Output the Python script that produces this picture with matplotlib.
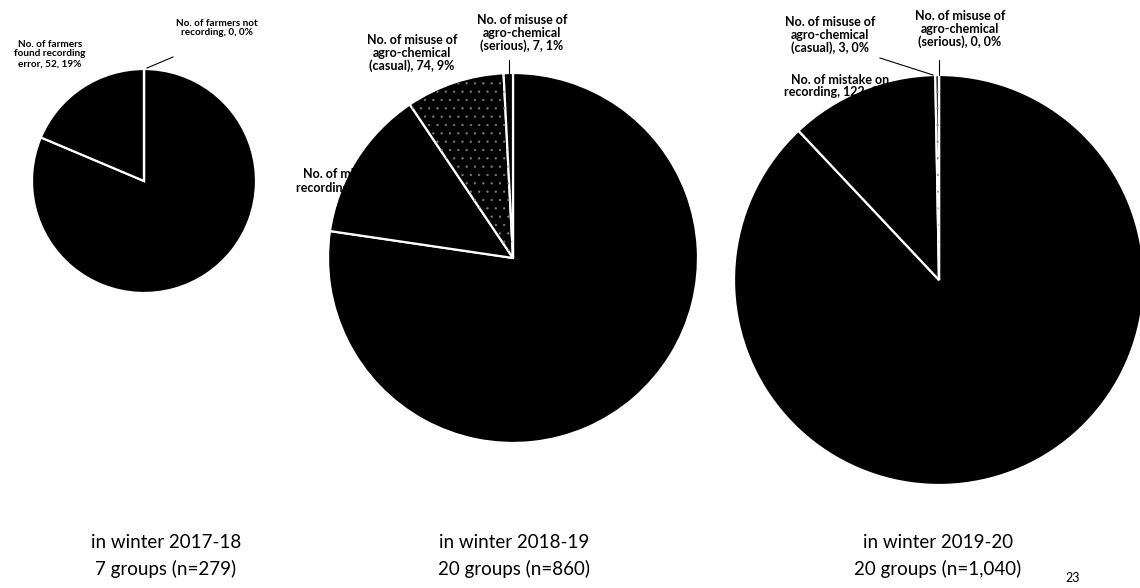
import matplotlib
matplotlib.use("Agg")
import matplotlib.pyplot as plt
from matplotlib.patches import Wedge

plt.rcParams['font.family'] = ['Lato', 'DejaVu Sans']
plt.rcParams['hatch.linewidth'] = 0.4

# data
labels_1718 = ["No. of farmers recording correctly", "No. of farmers\nfound recording\nerror, 52, 19%",
               "No. of farmers not\nrecording, 0, 0%"]
values_1718 = [227, 52, 0]

labels_1819 = ["correct", "No. of mistake on\nrecording, 114, 13%",
               "No. of misuse of\nagro-chemical\n(casual), 74, 9%",
               "No. of misuse of\nagro-chemical\n(serious), 7, 1%"]
values_1819 = [665, 114, 74, 7]

labels_1920 = ["correct", "No. of mistake on\nrecording, 122, 12%",
               "No. of misuse of\nagro-chemical\n(casual), 3, 0%",
               "No. of misuse of\nagro-chemical\n(serious), 0, 0%"]
values_1920 = [915, 122, 3, 0]

titles = ["in winter 2017-18\n7 groups (n=279)",
          "in winter 2018-19\n20 groups (n=860)",
          "in winter 2019-20\n20 groups (n=1,040)"]

W, H = 1140, 588
fig = plt.figure(figsize=(W / 100, H / 100), dpi=100)
ax = fig.add_axes([0, 0, 1, 1])


def Y(y):
    return H - y


def draw_pie(values, cx, cy, r, hatched=None):
    wedges, _ = ax.pie(values, center=(cx, Y(cy)), radius=r, startangle=90,
                       counterclock=False, colors=["black"] * len(values),
                       wedgeprops=dict(edgecolor="white", linewidth=1.6))
    if hatched is not None:
        w = wedges[hatched]
        t1, t2 = sorted((w.theta1, w.theta2))
        # speckled fill on top of the black slice
        ax.add_patch(Wedge(w.center, w.r * 0.99, t1, t2,
                           facecolor="none", edgecolor="#808080", linewidth=0,
                           hatch="..", zorder=w.get_zorder() + 0.1))
    return wedges


draw_pie(values_1718, 144, 181, 112)
draw_pie(values_1819, 513, 258, 185, hatched=2)
draw_pie(values_1920, 939, 280, 205, hatched=2)

lab = dict(ha="center", va="center", color="black", fontweight="bold", linespacing=1.1)

# 2017-18 labels
ax.text(50, Y(54), labels_1718[1], fontsize=7.2, **lab)
ax.text(217, Y(28), labels_1718[2], fontsize=7.2, **lab)
ax.plot([173, 147], [Y(57), Y(68)], color="black", lw=0.8)

# 2018-19 labels
ax.text(352, Y(181), labels_1819[1], fontsize=9, **lab)
ax.text(412, Y(53), labels_1819[2], fontsize=9, **lab)
ax.text(522, Y(33), labels_1819[3], fontsize=9, **lab)
ax.plot([509, 509], [Y(60), Y(75)], color="black", lw=0.8)

# 2019-20 labels
ax.text(840, Y(86), labels_1920[1], fontsize=9, **lab)
ax.text(830, Y(35), labels_1920[2], fontsize=9, **lab)
ax.text(960, Y(29), labels_1920[3], fontsize=9, **lab)
ax.plot([880, 933], [Y(58), Y(75)], color="black", lw=0.8)
ax.plot([939, 939], [Y(60), Y(75)], color="black", lw=0.8)

# bottom captions
for x, t in zip([166, 514, 938], titles):
    ax.text(x, Y(556), t, ha="center", va="center", fontsize=13.5, linespacing=1.6)

ax.text(1073, Y(578), "23", ha="center", va="center", fontsize=9)

ax.set_xlim(0, W)
ax.set_ylim(0, H)
ax.set_aspect("equal")
ax.axis("off")

fig.savefig("out.png", dpi=100)
